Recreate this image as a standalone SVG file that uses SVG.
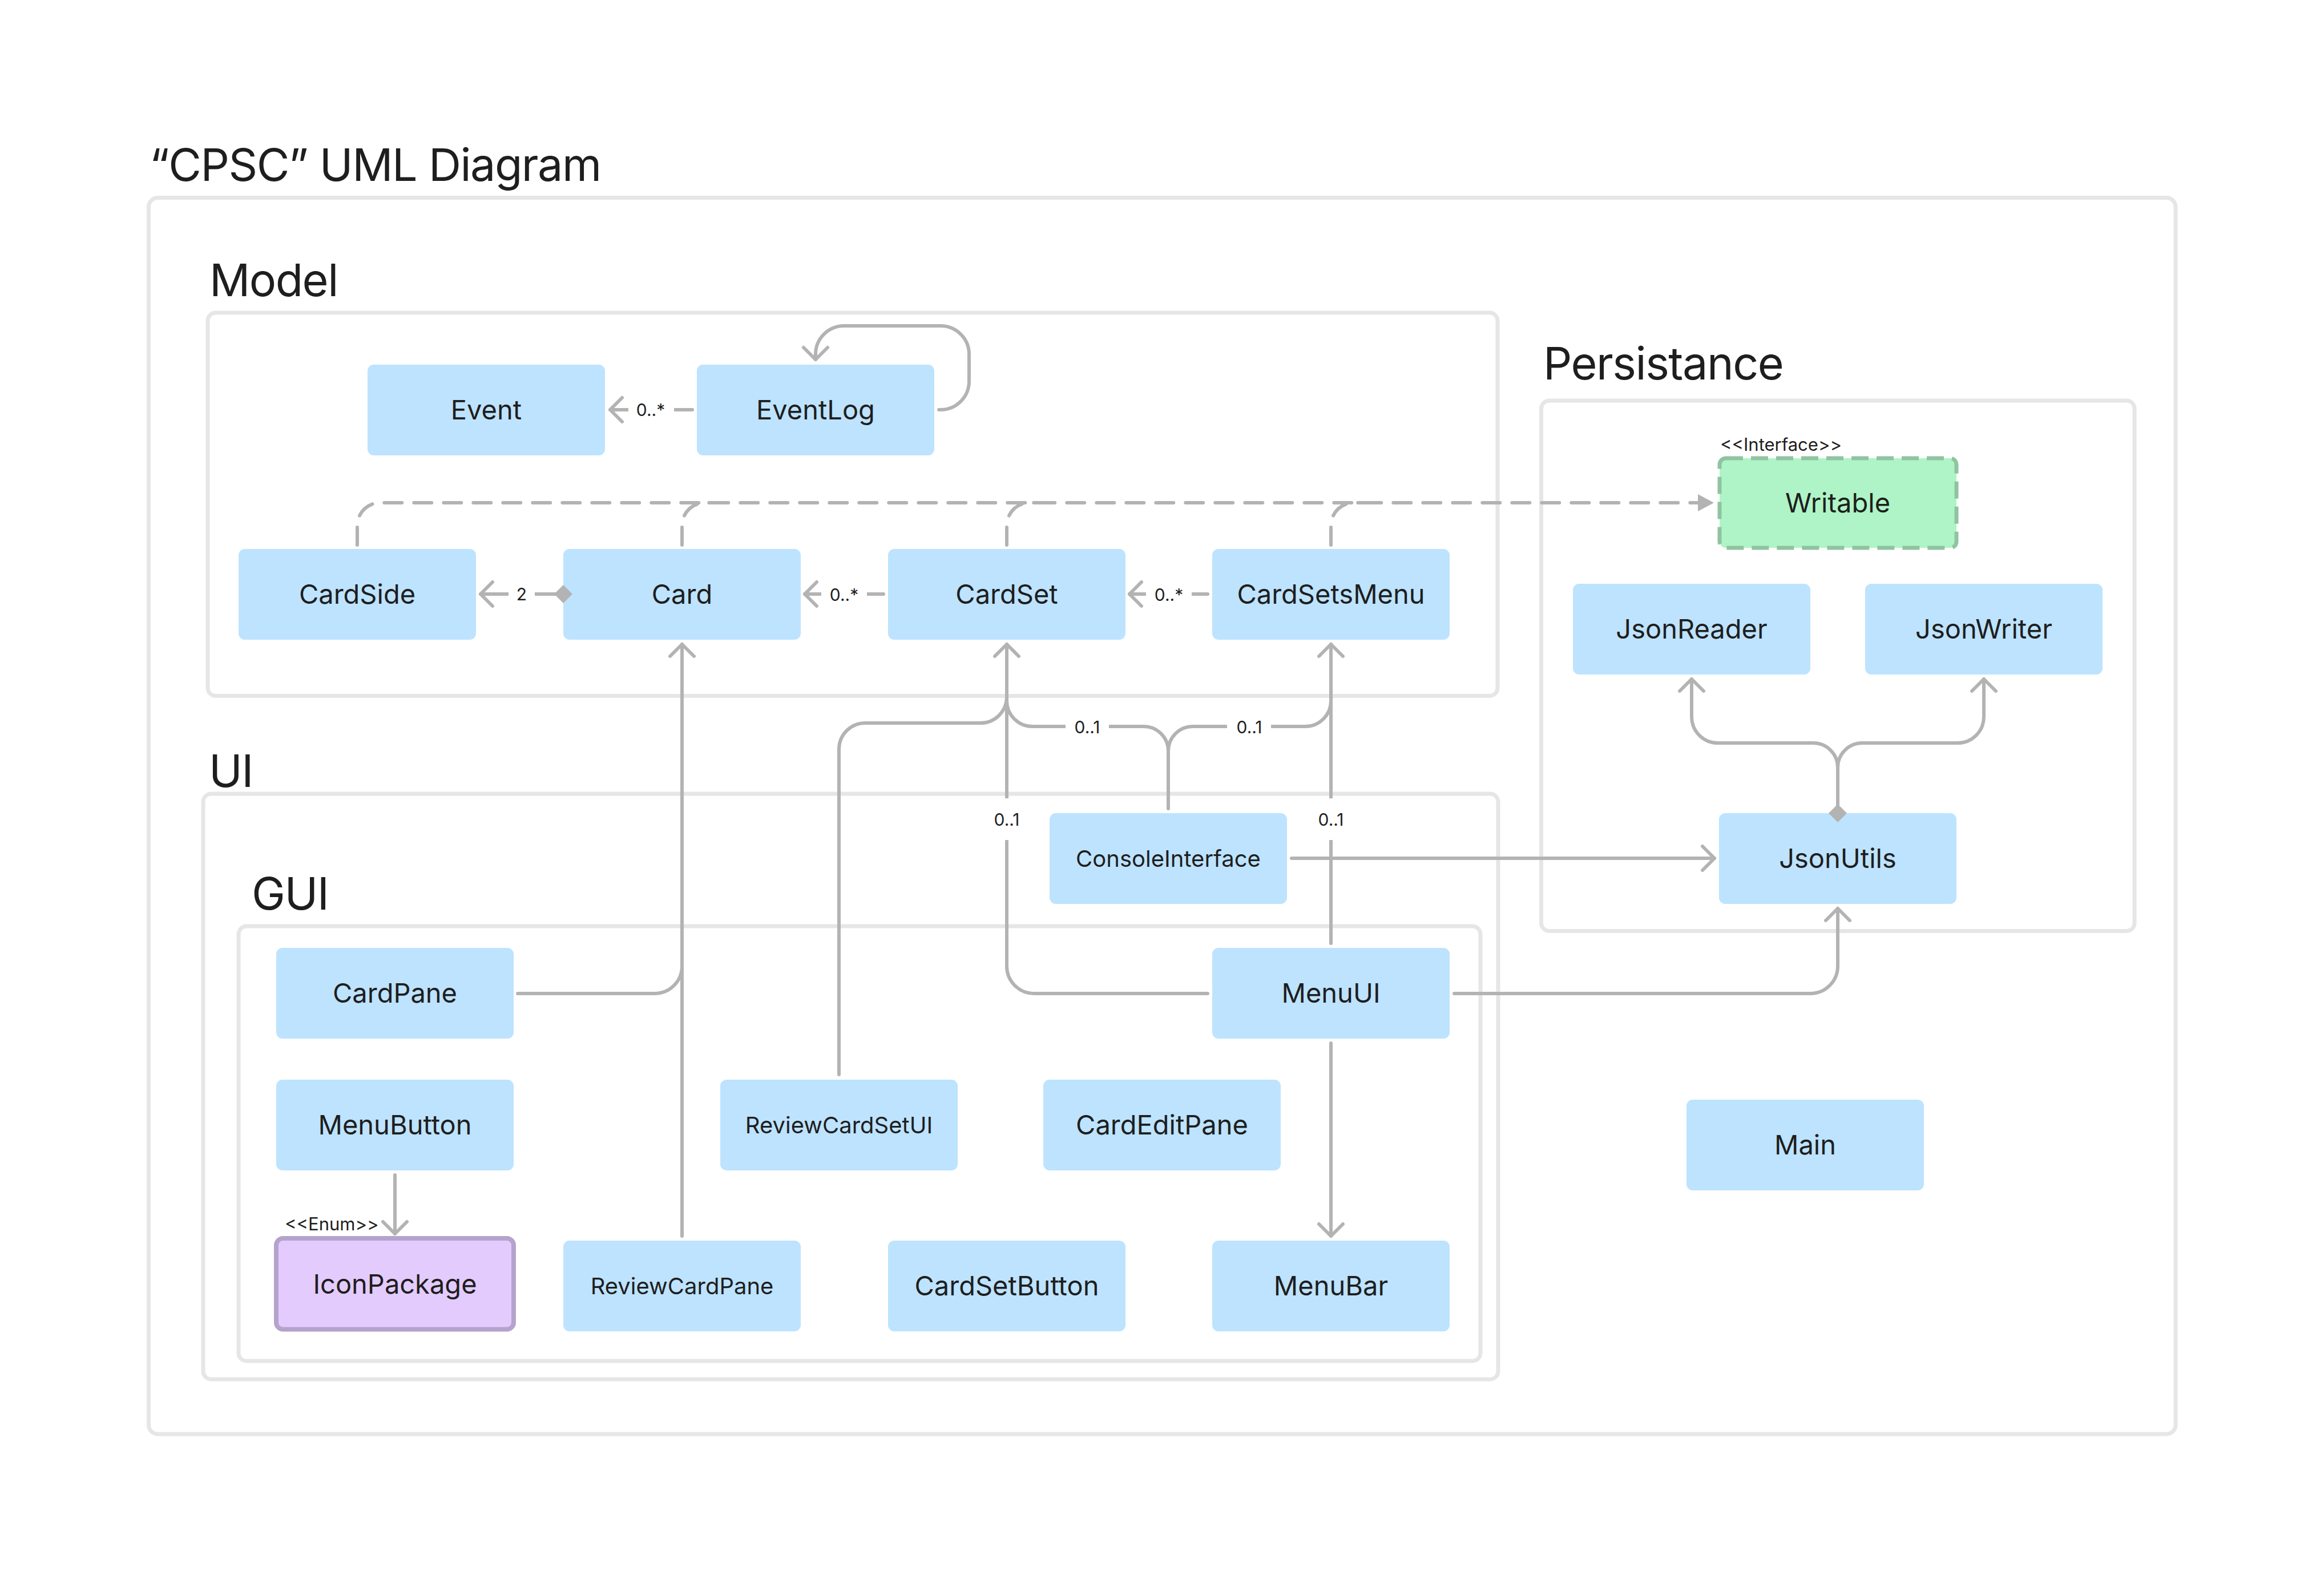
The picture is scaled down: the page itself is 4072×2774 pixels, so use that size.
<svg xmlns="http://www.w3.org/2000/svg" width="4072" height="2774" viewBox="0 0 4072 2774">
<style>
.frame{fill:none;stroke:#e6e6e6;stroke-width:7}
.ftitle{font-family:Inter,"Liberation Sans",sans-serif;font-size:79px;letter-spacing:-1.5px;fill:#1e1e1e}
.node{fill:#bde3ff}
.lbl{font-family:Inter,"Liberation Sans",sans-serif;font-size:47px;fill:#1e1e1e;text-anchor:middle}
.lbl.sm{font-size:40px}
.con{fill:none;stroke:#b3b3b3;stroke-width:6;stroke-linecap:round;stroke-linejoin:round}
.dash{stroke-dasharray:31 21}
.mult{font-family:Inter,"Liberation Sans",sans-serif;font-size:30px;fill:#1e1e1e;text-anchor:middle}
.stereo{font-family:Inter,"Liberation Sans",sans-serif;font-size:31px;fill:#1e1e1e}
.bg{fill:#ffffff}
.fillg{fill:#b3b3b3}
</style>
<defs>
<marker id="open" markerUnits="userSpaceOnUse" viewBox="-30 -30 60 60" markerWidth="60" markerHeight="60" refX="0" refY="0" orient="auto" overflow="visible">
<path d="M -21 -21 L 0 0 L -21 21" fill="none" stroke="#b3b3b3" stroke-width="6" stroke-linecap="round" stroke-linejoin="round"/>
</marker>
<marker id="tri" markerUnits="userSpaceOnUse" viewBox="-40 -20 44 40" markerWidth="44" markerHeight="40" refX="0" refY="0" orient="auto" overflow="visible">
<path d="M -28 -15 L 0 0 L -28 15 Z" fill="#b3b3b3"/>
</marker>
</defs>
<rect width="4072" height="2774" fill="#ffffff"/>

<g id="frames">
<rect class="frame" x="260.5" y="346.5" width="3551.5" height="2166.5" rx="16"/>
<text class="ftitle" x="262" y="317">“CPSC” UML Diagram</text>
<rect class="frame" x="364" y="548" width="2260" height="671.5" rx="14"/>
<text class="ftitle" x="367" y="519">Model</text>
<rect class="frame" x="2700.5" y="702" width="1039.5" height="929.5" rx="14"/>
<text class="ftitle" x="2704" y="665">Persistance</text>
<rect class="frame" x="356" y="1391" width="2269" height="1026" rx="14"/>
<text class="ftitle" x="366" y="1379">UI</text>
<rect class="frame" x="418" y="1623" width="2176" height="762" rx="14"/>
<text class="ftitle" x="441" y="1594">GUI</text>
</g>

<g id="nodes">
<g id="Event"><rect class="node" x="644" y="639" width="416" height="159" rx="11"/><text class="lbl" x="852" y="735">Event</text></g>
<g id="EventLog"><rect class="node" x="1221" y="639" width="416" height="159" rx="11"/><text class="lbl" x="1429" y="735">EventLog</text></g>
<g id="CardSide"><rect class="node" x="418" y="962" width="416" height="159" rx="11"/><text class="lbl" x="626" y="1058">CardSide</text></g>
<g id="Card"><rect class="node" x="987" y="962" width="416" height="159" rx="11"/><text class="lbl" x="1195" y="1058">Card</text></g>
<g id="CardSet"><rect class="node" x="1556" y="962" width="416" height="159" rx="11"/><text class="lbl" x="1764" y="1058">CardSet</text></g>
<g id="CardSetsMenu"><rect class="node" x="2124" y="962" width="416" height="159" rx="11"/><text class="lbl" x="2332" y="1058">CardSetsMenu</text></g>
<g id="Writable"><text class="stereo" x="3014" y="790">&lt;&lt;Interface&gt;&gt;</text><rect x="3013" y="803" width="415" height="157" rx="11" fill="#aff4c6" stroke="#8fc4a0" stroke-width="7" stroke-dasharray="30 14"/><text class="lbl" x="3220" y="898">Writable</text></g>
<g id="JsonReader"><rect class="node" x="2756" y="1023" width="416" height="159" rx="11"/><text class="lbl" x="2964" y="1119">JsonReader</text></g>
<g id="JsonWriter"><rect class="node" x="3268" y="1023" width="416" height="159" rx="11"/><text class="lbl" x="3476" y="1119">JsonWriter</text></g>
<g id="JsonUtils"><rect class="node" x="3012" y="1425" width="416" height="159" rx="11"/><text class="lbl" x="3220" y="1521">JsonUtils</text></g>
<g id="ConsoleInterface"><rect class="node" x="1839" y="1425" width="416" height="159" rx="11"/><text class="lbl sm" x="2047" y="1519">ConsoleInterface</text></g>
<g id="CardPane"><rect class="node" x="484" y="1661" width="416" height="159" rx="11"/><text class="lbl" x="692" y="1757">CardPane</text></g>
<g id="MenuUI"><rect class="node" x="2124" y="1661" width="416" height="159" rx="11"/><text class="lbl" x="2332" y="1757">MenuUI</text></g>
<g id="MenuButton"><rect class="node" x="484" y="1892" width="416" height="159" rx="11"/><text class="lbl" x="692" y="1988">MenuButton</text></g>
<g id="ReviewCardSetUI"><rect class="node" x="1262" y="1892" width="416" height="159" rx="11"/><text class="lbl sm" x="1470" y="1986">ReviewCardSetUI</text></g>
<g id="CardEditPane"><rect class="node" x="1828" y="1892" width="416" height="159" rx="11"/><text class="lbl" x="2036" y="1988">CardEditPane</text></g>
<g id="Main"><rect class="node" x="2955" y="1927" width="416" height="159" rx="11"/><text class="lbl" x="3163" y="2023">Main</text></g>
<g id="IconPackage"><text class="stereo" x="499" y="2156">&lt;&lt;Enum&gt;&gt;</text><rect x="484" y="2170" width="416" height="159.5" rx="12" fill="#e3cbfd" stroke="#b4a3cc" stroke-width="8"/><text class="lbl" x="692" y="2267">IconPackage</text></g>
<g id="ReviewCardPane"><rect class="node" x="987" y="2174" width="416" height="159" rx="11"/><text class="lbl sm" x="1195" y="2268">ReviewCardPane</text></g>
<g id="CardSetButton"><rect class="node" x="1556" y="2174" width="416" height="159" rx="11"/><text class="lbl" x="1764" y="2270">CardSetButton</text></g>
<g id="MenuBar"><rect class="node" x="2124" y="2174" width="416" height="159" rx="11"/><text class="lbl" x="2332" y="2270">MenuBar</text></g>
</g>

<g id="connectors">
<!-- EventLog -> Event -->
<path class="con" d="M 1213 718 H 1069" marker-end="url(#open)"/>
<rect class="bg" x="1101" y="698" width="80" height="40"/>
<text class="mult" x="1140" y="729">0..*</text>
<!-- EventLog self -->
<path class="con" d="M 1645 718 H 1648 A 50 50 0 0 0 1698 668 V 621 A 50 50 0 0 0 1648 571 H 1479 A 50 50 0 0 0 1429 621 V 630" marker-end="url(#open)"/>
<!-- Card -> CardSide -->
<path class="con" d="M 987 1041 H 842" marker-end="url(#open)"/>
<rect class="bg" x="891" y="1021" width="46" height="40"/>
<text class="mult" x="914" y="1052">2</text>
<polygon class="fillg" points="971,1041 987,1025 1003,1041 987,1057"/>
<!-- CardSet -> Card -->
<path class="con" d="M 1548 1041 H 1410" marker-end="url(#open)"/>
<rect class="bg" x="1439" y="1021" width="80" height="40"/>
<text class="mult" x="1479" y="1053">0..*</text>
<!-- CardSetsMenu -> CardSet -->
<path class="con" d="M 2116 1041 H 1979" marker-end="url(#open)"/>
<rect class="bg" x="2008" y="1021" width="80" height="40"/>
<text class="mult" x="2048" y="1053">0..*</text>
<!-- realizations to Writable -->
<path class="con dash" d="M 626 955 V 921 A 40 40 0 0 1 666 881 H 3003" marker-end="url(#tri)"/>
<path class="con dash" d="M 1195 955 V 921 A 40 40 0 0 1 1235 881 H 1262"/>
<path class="con dash" d="M 1764 955 V 921 A 40 40 0 0 1 1804 881 H 1831"/>
<path class="con dash" d="M 2332 955 V 921 A 40 40 0 0 1 2372 881 H 2399"/>
<!-- CardPane / ReviewCardPane -> Card -->
<path class="con" d="M 907 1741 H 1147 A 48 48 0 0 0 1195 1693"/>
<path class="con" d="M 1195 2166 V 1129" marker-end="url(#open)"/>
<!-- ReviewCardSetUI -> CardSet -->
<path class="con" d="M 1470 1883 V 1313 A 46 46 0 0 1 1516 1267 H 1718 A 46 46 0 0 0 1764 1221"/>
<!-- MenuUI -> CardSet -->
<path class="con" d="M 2116 1741 H 1812 A 48 48 0 0 1 1764 1693 V 1129" marker-end="url(#open)"/>
<rect class="bg" x="1734" y="1399" width="60" height="73"/>
<text class="mult" x="1764" y="1447">0..1</text>
<!-- ConsoleInterface -> CardSet / CardSetsMenu -->
<path class="con" d="M 2047 1417 V 1316 A 43 43 0 0 0 2004 1273 H 1809 A 45 45 0 0 1 1764 1228"/>
<path class="con" d="M 2047 1316 A 43 43 0 0 1 2090 1273 H 2287 A 45 45 0 0 0 2332 1228"/>
<rect class="bg" x="1867" y="1253" width="76" height="40"/>
<text class="mult" x="1905" y="1285">0..1</text>
<rect class="bg" x="2150" y="1253" width="77" height="40"/>
<text class="mult" x="2189" y="1285">0..1</text>
<!-- MenuUI -> CardSetsMenu -->
<path class="con" d="M 2332 1653 V 1129" marker-end="url(#open)"/>
<rect class="bg" x="2302" y="1399" width="60" height="73"/>
<text class="mult" x="2332" y="1447">0..1</text>
<!-- ConsoleInterface -> JsonUtils -->
<path class="con" d="M 2263 1504 H 3004" marker-end="url(#open)"/>
<!-- MenuUI -> JsonUtils -->
<path class="con" d="M 2548 1741 H 3172 A 48 48 0 0 0 3220 1693 V 1592" marker-end="url(#open)"/>
<!-- JsonUtils -> JsonReader / JsonWriter -->
<path class="con" d="M 3220 1425 V 1345 A 43 43 0 0 0 3177 1302 H 3010 A 46 46 0 0 1 2964 1256 V 1190" marker-end="url(#open)"/>
<path class="con" d="M 3220 1345 A 43 43 0 0 1 3263 1302 H 3430 A 46 46 0 0 0 3476 1256 V 1190" marker-end="url(#open)"/>
<polygon class="fillg" points="3204,1425 3220,1409 3236,1425 3220,1441"/>
<!-- MenuButton -> IconPackage -->
<path class="con" d="M 692 2059 V 2162" marker-end="url(#open)"/>
<!-- MenuUI -> MenuBar -->
<path class="con" d="M 2332 1828 V 2166" marker-end="url(#open)"/>
</g>
</svg>
